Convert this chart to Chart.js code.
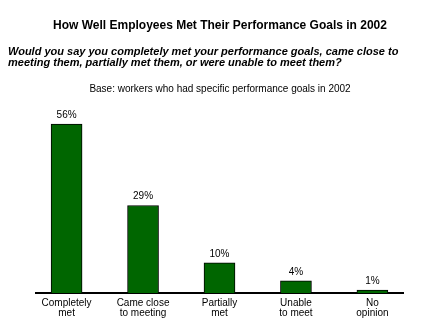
<!DOCTYPE html>
<html><head><meta charset="utf-8">
<script src="https://cdn.jsdelivr.net/npm/chart.js@4/dist/chart.umd.min.js"></script>
<style>
html,body{margin:0;padding:0;background:#fff;}
#wrap{position:relative;width:440px;height:325px;}
canvas{position:absolute;left:0;top:0;}
.t{position:absolute;font-family:"Liberation Sans",Arial,sans-serif;color:#000;white-space:nowrap;}
#title{left:0;width:440px;top:18px;text-align:center;font-weight:bold;font-size:12px;}
#sub{left:8px;top:46px;font-weight:bold;font-style:italic;font-size:11px;line-height:11px;}
#base{left:0;width:440px;top:83px;text-align:center;font-size:10px;}
</style></head>
<body><div id="wrap">
<canvas id="c" width="440" height="325"></canvas>
<div class="t" id="title">How Well Employees Met Their Performance Goals in 2002</div>
<div class="t" id="sub">Would you say you completely met your performance goals, came close to<br>meeting them, partially met them, or were unable to meet them?</div>
<div class="t" id="base">Base: workers who had specific performance goals in 2002</div>
</div>
<script>
const categories = [["Completely","met"],["Came close","to meeting"],["Partially","met"],["Unable","to meet"],["No","opinion"]];
const values = [56, 29, 10, 4, 1];
const valueLabels = ["56%","29%","10%","4%","1%"];

const FONT = "'Liberation Sans', Arial, sans-serif";
const labelPlugin = {
  id: 'vlabels',
  afterDatasetsDraw(chart) {
    const ctx = chart.ctx;
    const meta = chart.getDatasetMeta(0);
    ctx.save();
    ctx.font = "10px " + FONT;
    ctx.fillStyle = "#000";
    ctx.textAlign = "center";
    ctx.textBaseline = "middle";
    meta.data.forEach((bar, i) => {
      ctx.fillText(valueLabels[i], bar.x, bar.y - 9);
    });
    ctx.restore();
  }
};

new Chart(document.getElementById('c'), {
  type: 'bar',
  data: {
    datasets: [{
      data: values.map((v, i) => ({x: i, y: v})),
      backgroundColor: '#006600',
      borderColor: '#000',
      borderWidth: 1,
      barThickness: 31,
      borderSkipped: 'bottom'
    }]
  },
  options: {
    responsive: false,
    animation: false,
    layout: {padding: {left: 36, right: 37, top: 112, bottom: 2}},
    plugins: {legend: {display: false}, tooltip: {enabled: false}},
    scales: {
      x: {
        type: 'linear',
        offset: false,
        min: -0.4, max: 4.4,
        afterBuildTicks(axis) { axis.ticks = categories.map((c, i) => ({value: i})); },
        ticks: {
          callback: (v) => categories[v],
          font: {family: FONT, size: 10, lineHeight: 1.0},
          color: '#000',
          padding: 5,
          maxRotation: 0,
          autoSkip: false
        },
        grid: {display: false, drawTicks: false},
        border: {display: true, color: '#000', width: 2}
      },
      y: {
        display: false,
        min: 0, max: 60
      }
    }
  },
  plugins: [labelPlugin]
});
</script>
</body></html>
